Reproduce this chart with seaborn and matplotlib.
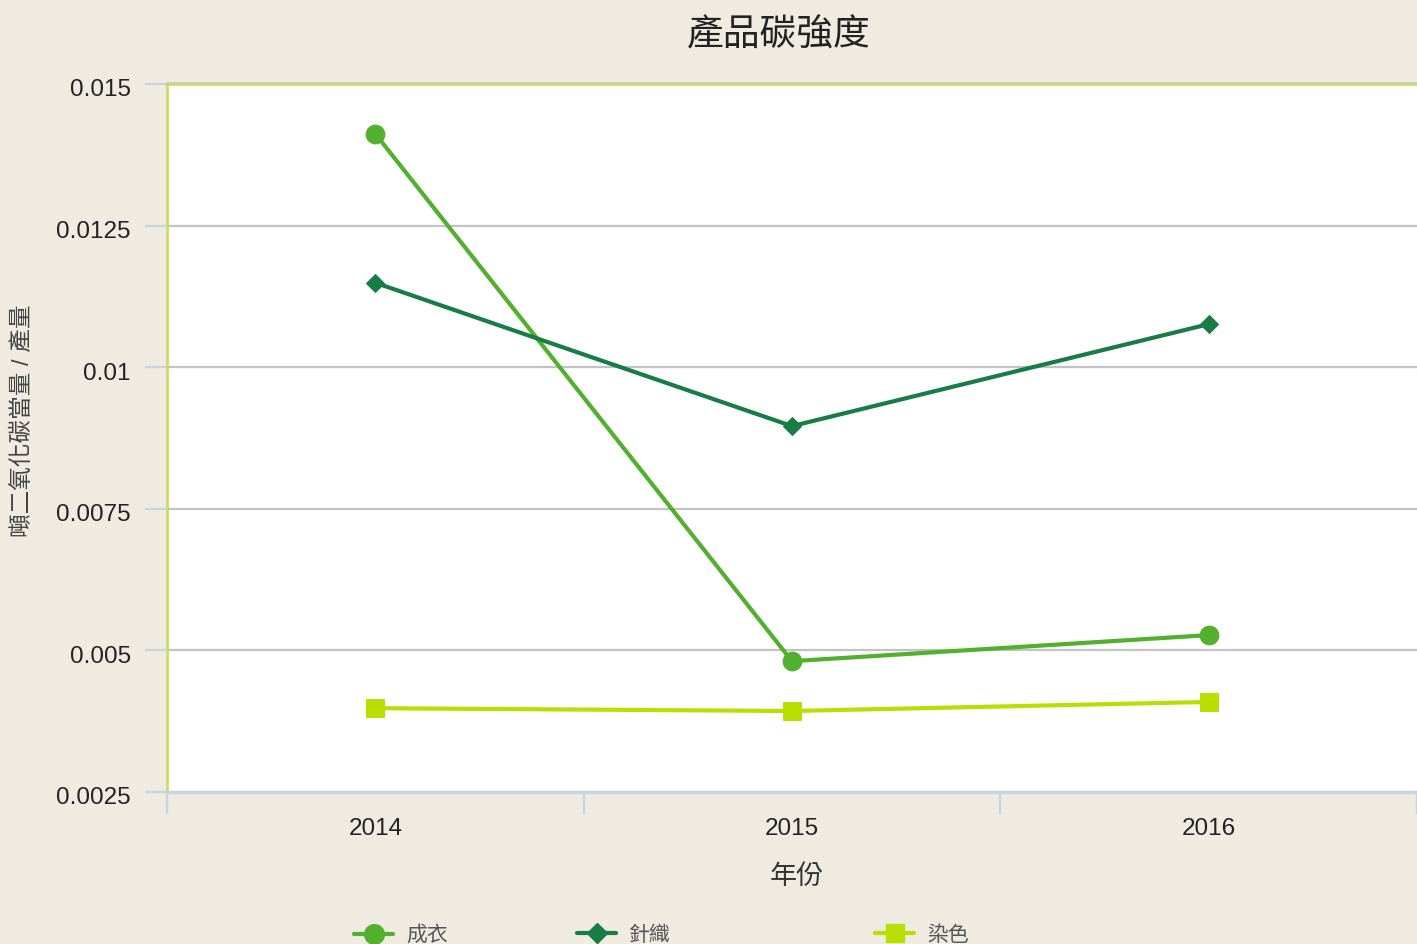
import matplotlib
matplotlib.use("Agg")
import matplotlib.pyplot as plt
from matplotlib.lines import Line2D
from matplotlib.transforms import ScaledTranslation
import numpy as np
import pandas as pd
import seaborn as sns

# values
years = [2014, 2015, 2016]
garment = [0.01412, 0.00481, 0.00527]    # 成衣
knitting = [0.01149, 0.00896, 0.01076]   # 針織
dyeing = [0.00398, 0.00393, 0.00409]     # 染色
series_names = ["成衣", "針織", "染色"]
y_ticks = [0.0025, 0.005, 0.0075, 0.01, 0.0125, 0.015]

colors = {"成衣": "#52b02f", "針織": "#177d45", "染色": "#b9df02"}
markers = {"成衣": "o", "針織": "D", "染色": "s"}
msizes = {"成衣": 13.5, "針織": 9.5, "染色": 13}

df = pd.DataFrame({
    "year": years * 3,
    "value": garment + knitting + dyeing,
    "series": [n for n in series_names for _ in years],
})

sns.set_style("white")
plt.rcParams["font.family"] = ["Liberation Sans", "Noto Sans CJK TC", "DejaVu Sans"]

bg = "#efebe0"
fig = plt.figure(figsize=(14.17, 9.44), dpi=100, facecolor=bg)
ax = fig.add_axes([167 / 1417, 1 - 792 / 944, 1 - 167 / 1417, (792 - 84) / 944])
ax.set_facecolor("white")

# grid first so lines sit on top
for v in y_ticks[1:-1]:
    ax.axhline(v, color="#c3c3c3", lw=1.6, zorder=0)

for name in series_names:
    sub = df[df["series"] == name]
    sns.lineplot(data=sub, x="year", y="value", ax=ax, color=colors[name],
                 marker=markers[name], markersize=msizes[name],
                 markeredgecolor=colors[name], lw=3, legend=False, zorder=3)

ax.set_xlim(2013.5, 2016.5)
ax.set_ylim(0.0025, 0.015)

# band boundaries as major ticks, year labels as minor ticks
ax.set_xticks([2013.5, 2014.5, 2015.5, 2016.5])
ax.set_xticklabels([])
ax.set_xticks(years, minor=True)
ax.set_xticklabels([str(y) for y in years], minor=True)
ax.tick_params(axis="x", which="major", direction="out", length=16, width=1.6,
               color="#c6d3e2", bottom=True)
ax.tick_params(axis="x", which="minor", length=0, pad=19, labelsize=17.5,
               labelcolor="#222222")

ax.set_yticks(y_ticks)
ax.set_yticklabels(["{:g}".format(v) for v in y_ticks])
ax.tick_params(axis="y", direction="out", length=16, width=1.6, color="#c6d3e2",
               left=True, pad=10, labelsize=17.5, labelcolor="#222222")
# labels in the reference sit a few pixels below their ticks
shift = ScaledTranslation(0, -4 / 100, fig.dpi_scale_trans)
for lab in ax.get_yticklabels():
    lab.set_transform(lab.get_transform() + shift)

for s in ["left", "top"]:
    ax.spines[s].set_color("#ccdc62")
    ax.spines[s].set_linewidth(2)
ax.spines["bottom"].set_color("#c6d3e2")
ax.spines["bottom"].set_linewidth(2.5)
ax.spines["right"].set_visible(False)

# thin grey line just above the top border
fig.add_artist(Line2D([167 / 1417, 1], [1 - 82.5 / 944] * 2, color="#c8c8c0",
                      lw=1.2, transform=fig.transFigure))

ax.set_xlabel("年份", fontsize=19.5, color="#333333")
ax.xaxis.set_label_coords((797 - 167) / 1250, -(877 - 792) / 708)
ax.xaxis.label.set_va("center")
ax.set_ylabel("噸二氧化碳當量 / 產量", fontsize=17, color="#444444")
ax.yaxis.set_label_coords(-0.106, 0.525)

fig.text(779 / 1417, 1 - 36 / 944, "產品碳強度", ha="center", va="center",
         fontsize=26.5, color="#222222")

# legend entries placed one by one, as in the reference
legend_x = [352, 575, 873]
for name, lx in zip(series_names, legend_x):
    h = Line2D([], [], color=colors[name], marker=markers[name], lw=3,
               markersize=msizes[name] * 1.05, markeredgecolor=colors[name])
    fig.legend(handles=[h], labels=[name], loc="center left",
               bbox_to_anchor=(lx / 1417 - 0.006, 1 - 935 / 944), frameon=False,
               fontsize=15, labelcolor="#555555", handlelength=1.9,
               handletextpad=0.6, borderpad=0)

fig.savefig("out.png", dpi=100, facecolor=bg)
